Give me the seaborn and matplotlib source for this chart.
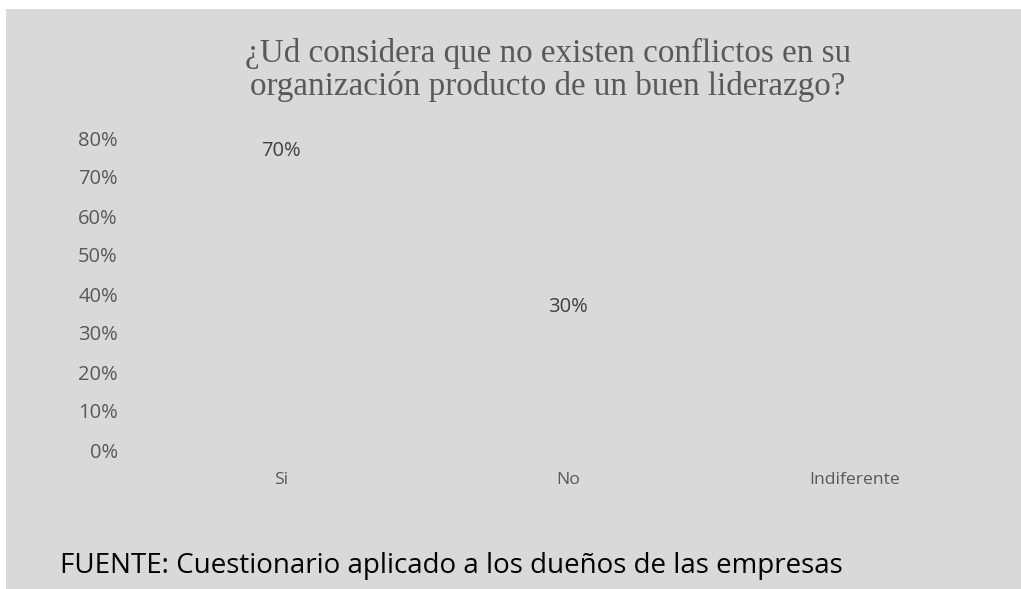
import matplotlib
matplotlib.use("Agg")
import matplotlib.pyplot as plt
import seaborn as sns
import pandas as pd
from matplotlib.patches import Rectangle

# Survey answers and their shares
categories = ["Si", "No", "Indiferente"]
shares = [0.70, 0.30, 0.00]
y_ticks = [0.0, 0.1, 0.2, 0.3, 0.4, 0.5, 0.6, 0.7, 0.8]
y_tick_labels = ["0%", "10%", "20%", "30%", "40%", "50%", "60%", "70%", "80%"]
title_text = "¿Ud considera que no existen conflictos en su\norganización producto de un buen liderazgo?"
source_text = "FUENTE: Cuestionario aplicado a los dueños de las empresas"

BG = "#d9d9d9"
TICK_COLOR = "#595959"
LABEL_COLOR = "#404040"

sns.set_theme(style="white")
plt.rcParams["font.family"] = ["Open Sans", "DejaVu Sans"]

df = pd.DataFrame({"respuesta": categories, "porcentaje": shares})

fig = plt.figure(figsize=(10.21, 5.89), dpi=100)
fig.patch.set_facecolor("white")
# grey chart panel
fig.patches.append(Rectangle((6 / 1021, 0), 1 - 6 / 1021, 1 - 9 / 589,
                             transform=fig.transFigure, facecolor=BG,
                             edgecolor="none", zorder=-5))

ax = fig.add_axes([138 / 1021, (589 - 450) / 589, 860 / 1021, 312 / 589])
ax.set_facecolor("none")
ax.set_zorder(2)

sns.barplot(data=df, x="respuesta", y="porcentaje", ax=ax, color=BG,
            saturation=1, width=0.6, edgecolor="none")

ax.set_ylim(0, 0.8)
ax.set_yticks(y_ticks)
ax.set_yticklabels(y_tick_labels)
ax.set_xlabel("")
ax.set_ylabel("")
for s in ax.spines.values():
    s.set_visible(False)
ax.tick_params(axis="y", length=0, pad=14.5, labelsize=14.5, labelcolor=TICK_COLOR)
ax.tick_params(axis="x", length=0, pad=16, labelsize=12.6, labelcolor=TICK_COLOR)

# value labels above each bar (zero share has no label)
for i, v in enumerate(shares):
    if v > 0:
        ax.annotate(f"{v:.0%}", xy=(i, v), xytext=(0, 19), textcoords="offset points",
                    ha="center", va="center", fontsize=14.5, color=LABEL_COLOR)

fig.text(548 / 1021, 1 - 70 / 589, title_text, ha="center", va="center",
         family="Liberation Serif", fontsize=23.9, color=TICK_COLOR, linespacing=1.1)

fig.text(60 / 1021, 1 - 566 / 589, source_text, ha="left", va="center",
         fontsize=20, color="black")

fig.savefig("out.png", dpi=100)
